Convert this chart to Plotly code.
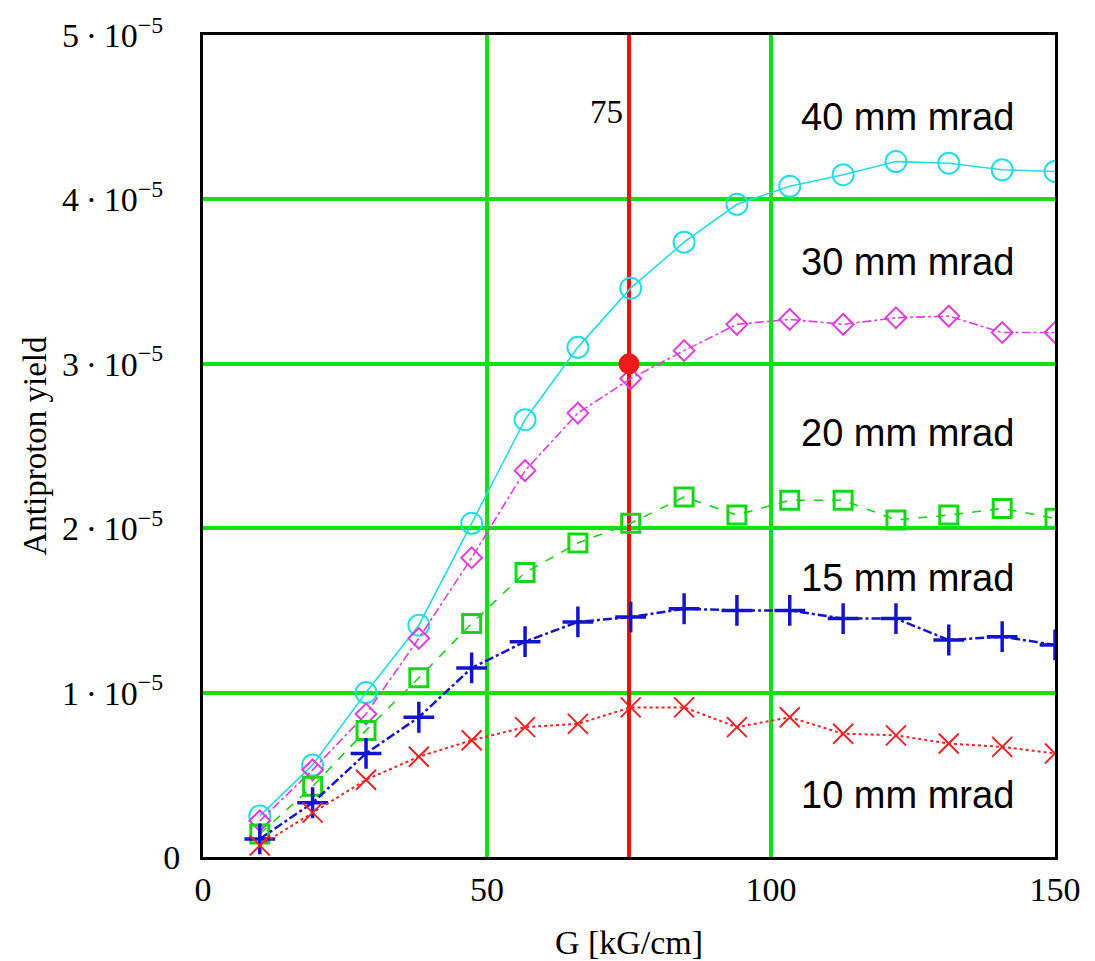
import plotly.graph_objects as go

# ---- data (yield values in units of 1e-5) ----
G = [10, 19.3, 28.7, 38, 47.3, 56.7, 66, 75.3, 84.7, 94, 103.3, 112.7, 122, 131.3, 140.7, 150]
y40 = [0.25, 0.56, 1.00, 1.41, 2.03, 2.66, 3.10, 3.46, 3.74, 3.97, 4.08, 4.15, 4.23, 4.22, 4.18, 4.17]
y30 = [0.22, 0.53, 0.87, 1.33, 1.82, 2.35, 2.70, 2.91, 3.08, 3.24, 3.27, 3.24, 3.28, 3.29, 3.19, 3.19]
y20 = [0.14, 0.43, 0.77, 1.09, 1.42, 1.73, 1.91, 2.03, 2.19, 2.08, 2.17, 2.17, 2.05, 2.08, 2.12, 2.06]
y15 = [0.11, 0.33, 0.63, 0.85, 1.15, 1.31, 1.43, 1.46, 1.51, 1.50, 1.50, 1.45, 1.45, 1.32, 1.34, 1.29]
y10 = [0.07, 0.27, 0.47, 0.61, 0.71, 0.79, 0.81, 0.91, 0.91, 0.79, 0.85, 0.75, 0.74, 0.69, 0.67, 0.63]
SCALE = 1e-5

labels = ["40 mm mrad", "30 mm mrad", "20 mm mrad", "15 mm mrad", "10 mm mrad"]
label_y = [4.50, 3.62, 2.58, 1.70, 0.38]
label_x = 124

MARK_G = 75
MARK_YIELD = 3.0

x_ticks = [0, 50, 100, 150]
y_ticks = [0, 1, 2, 3, 4, 5]
y_ticktext = ["0"] + [f"{v}\u2009\u00b7\u200910<sup>\u22125</sup>\u2002" for v in y_ticks[1:]]

SERIF = "Liberation Serif, Times New Roman, serif"
SANS = "Liberation Sans, Arial, sans-serif"

series = [
    (y40, "#22dde6", "solid", 1.6, "circle-open", 21, 2.0),
    (y30, "#e03ce0", "dashdot", 1.6, "diamond-open", 16, 2.0),
    (y20, "#14d814", "dash", 1.6, "square-open", 18, 3.0),
    (y15, "#1414cc", "dashdot", 2.5, "cross-thin-open", 22, 3.5),
    (y10, "#ee2222", "dot", 2.0, "x-thin-open", 20, 2.0),
]

fig = go.Figure()

# vertical marker line at G = 75
fig.add_trace(go.Scatter(
    x=[MARK_G, MARK_G], y=[0, 5 * SCALE], mode="lines",
    line=dict(color="#ee1111", width=4), showlegend=False, hoverinfo="skip"))

for ys, color, dash, lw, sym, ms, mlw in series:
    fig.add_trace(go.Scatter(
        x=G, y=[v * SCALE for v in ys], mode="lines+markers",
        line=dict(color=color, width=lw, dash=dash),
        marker=dict(symbol=sym, size=ms, color=color, line=dict(color=color, width=mlw)),
        showlegend=False))

fig.add_trace(go.Scatter(
    x=[MARK_G], y=[MARK_YIELD * SCALE], mode="markers",
    marker=dict(symbol="circle", size=21, color="#ee1a1a"), showlegend=False))

annotations = []
for t, yy in zip(labels, label_y):
    annotations.append(dict(x=label_x, y=yy * SCALE, text=t, showarrow=False,
                            xanchor="center", yanchor="middle",
                            font=dict(family=SANS, size=38, color="black")))
annotations.append(dict(x=MARK_G, y=4.53 * SCALE, text=str(MARK_G), showarrow=False,
                        xanchor="right", yanchor="middle", xshift=-4,
                        font=dict(family=SERIF, size=33, color="black")))

fig.update_layout(
    width=1087, height=953,
    margin=dict(l=195, r=40, t=27, b=104, autoexpand=False),
    paper_bgcolor="white", plot_bgcolor="white",
    annotations=annotations,
    font=dict(family=SERIF, size=34, color="black"),
)
fig.update_xaxes(
    range=[0, 150], tickvals=x_ticks, ticktext=[str(v) for v in x_ticks],
    showgrid=True, gridcolor="#11e011", gridwidth=3.5,
    showline=True, linecolor="black", linewidth=3, mirror=True,
    zeroline=False, ticks="", ticklabelstandoff=0, automargin=False,
    title=dict(text="G [kG/cm]", font=dict(family=SERIF, size=34), standoff=24),
    tickfont=dict(family=SERIF, size=34),
)
fig.update_yaxes(
    range=[0, 5 * SCALE], tickvals=[v * SCALE for v in y_ticks], ticktext=y_ticktext,
    showgrid=True, gridcolor="#11e011", gridwidth=3.5,
    showline=True, linecolor="black", linewidth=3, mirror=True,
    zeroline=False, ticks="", ticklabelstandoff=13, automargin=False,
    title=dict(text="Antiproton yield", font=dict(family=SERIF, size=33), standoff=6),
    tickfont=dict(family=SERIF, size=34),
)

fig.write_html("out.html")
